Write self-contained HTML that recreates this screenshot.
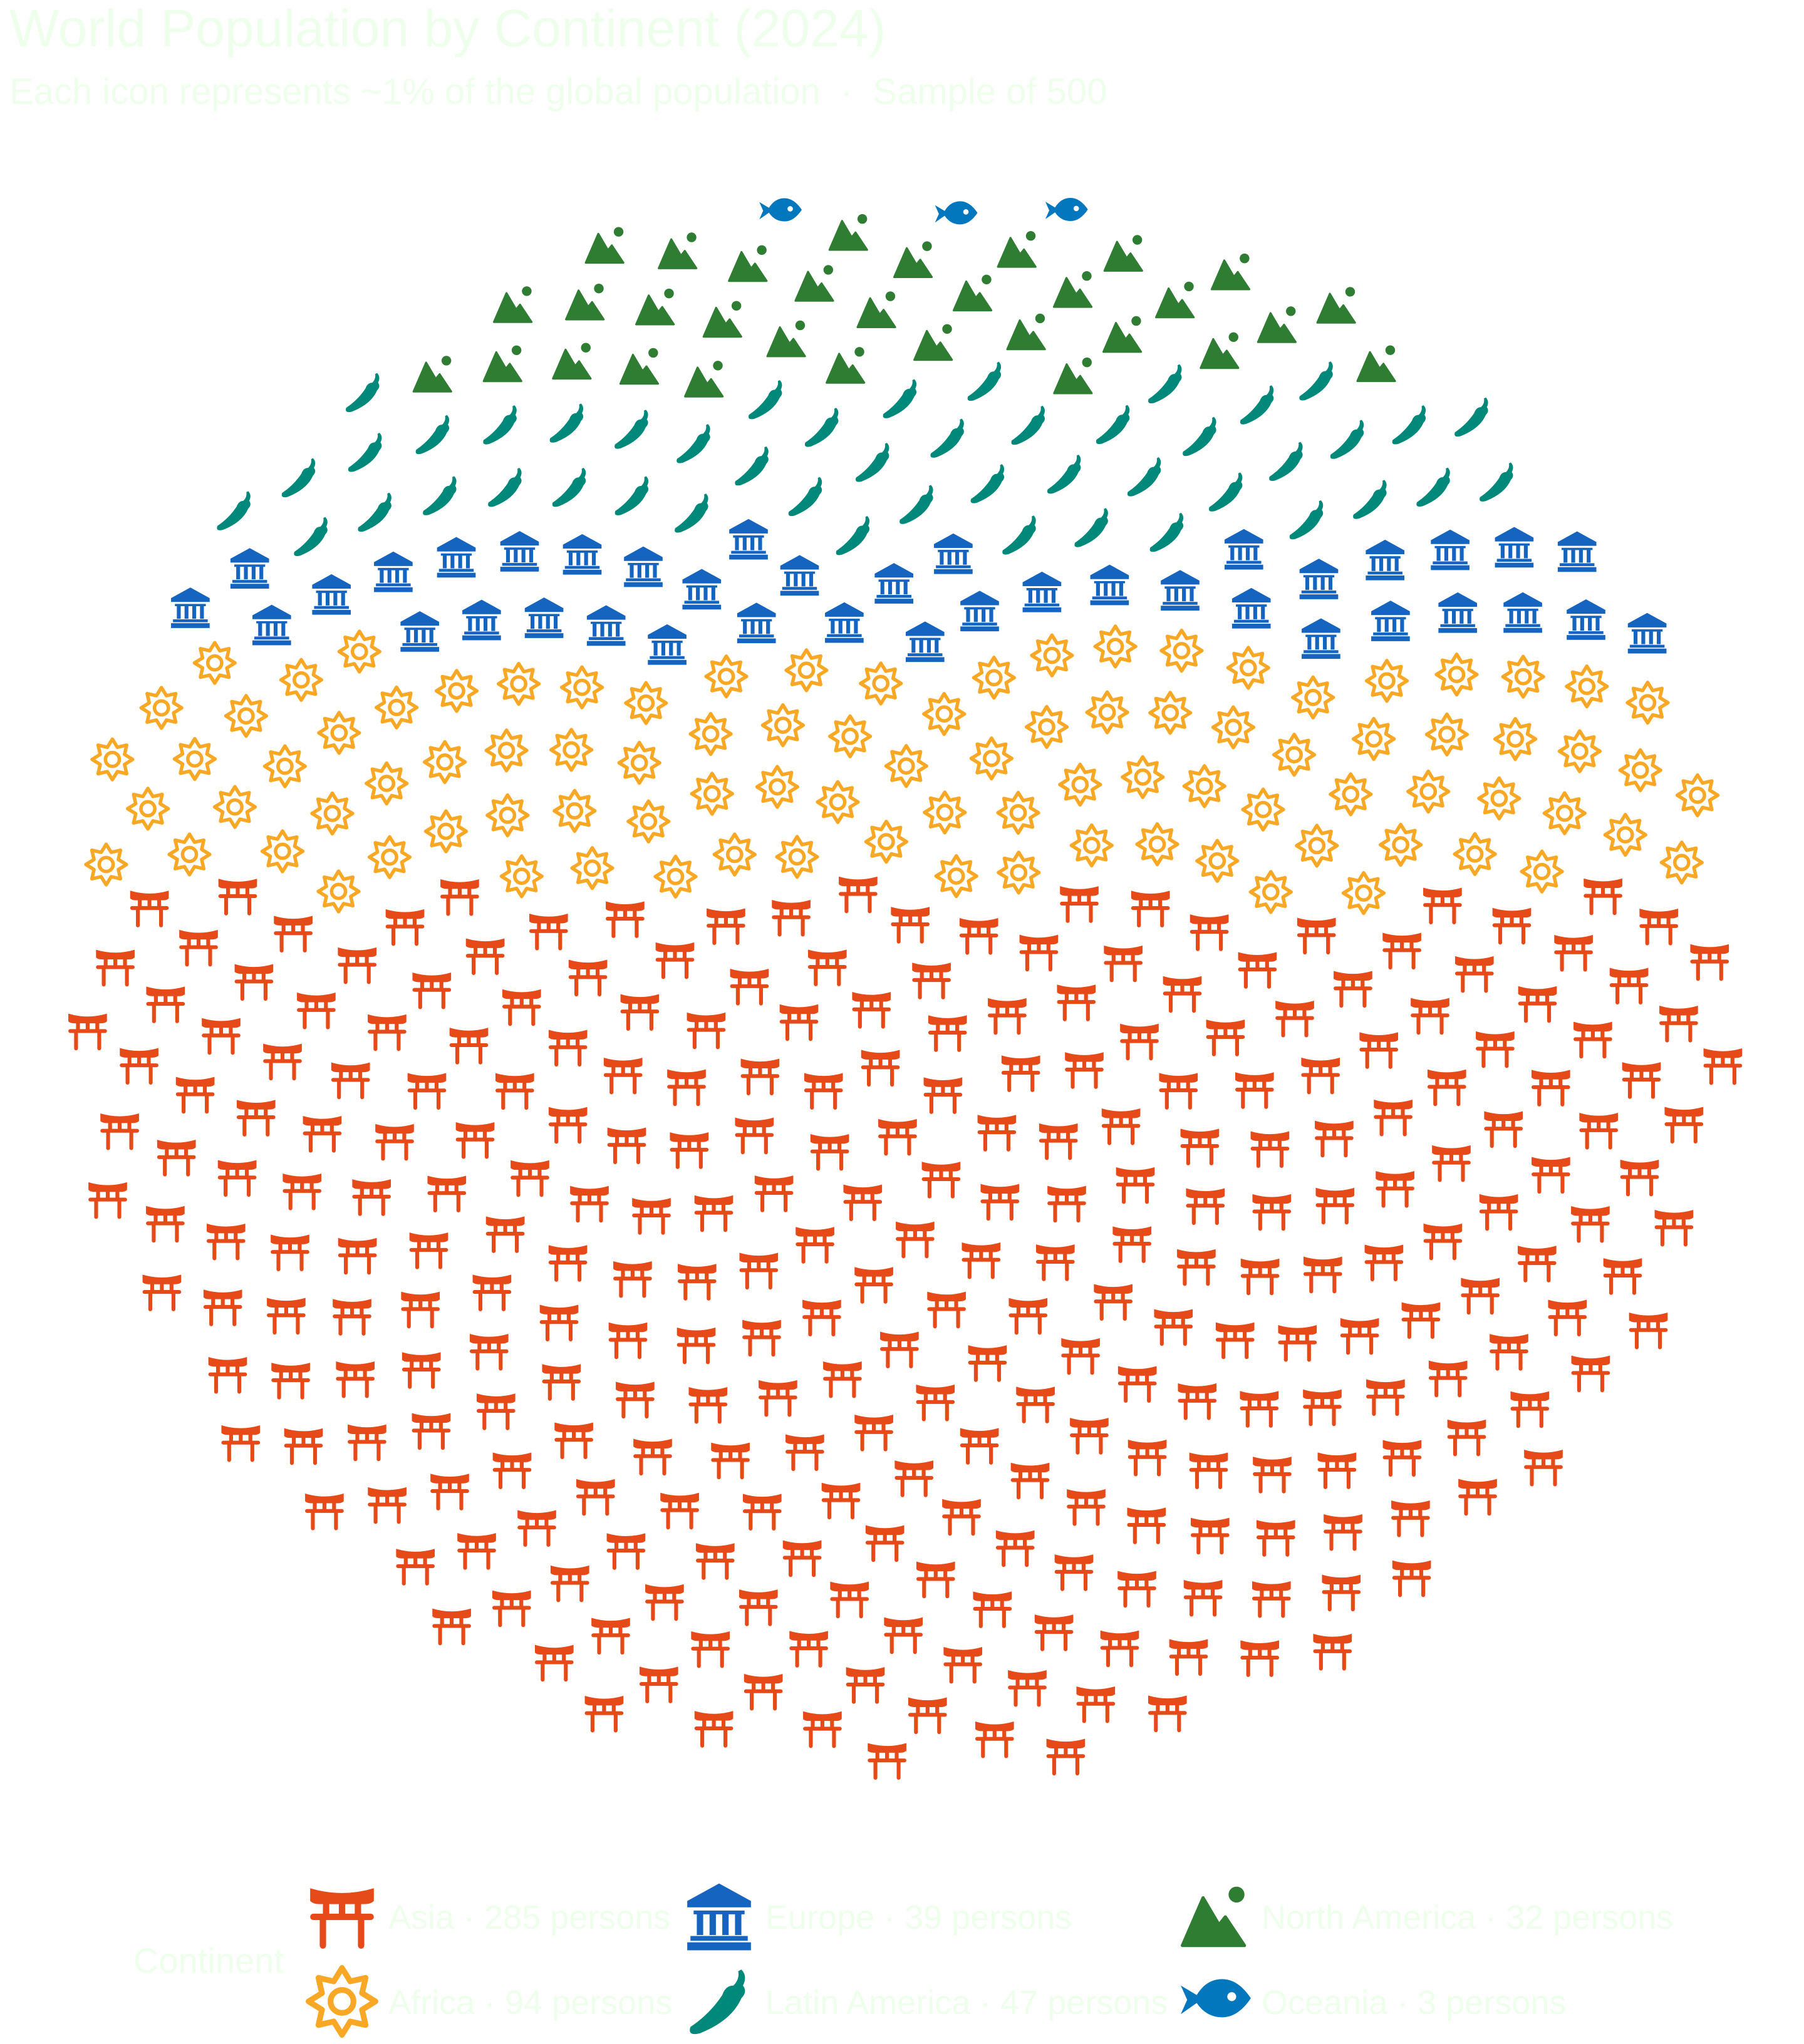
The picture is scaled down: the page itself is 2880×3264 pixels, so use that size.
<!DOCTYPE html>
<html><head><meta charset="utf-8"><style>
html,body{margin:0;padding:0;background:#fff;}
body{width:2880px;height:3264px;overflow:hidden;font-family:"Liberation Sans",sans-serif;}
svg{display:block}
</style></head><body>
<svg id="chart" width="2880" height="3264" viewBox="0 0 2880 3264" xmlns="http://www.w3.org/2000/svg">
<defs>
<symbol id="ic-torii" viewBox="0 0 24 24"><path d="M2 3 Q12 6 22 3 L22 7 Q21 8 19 8 L5 8 Q3 8 2 7Z M6 8h2v3H6z M11 8h2v3h-2z M16 8h2v3h-2z M3 11h18a1 1 0 0 1 0 2H3a1 1 0 0 1 0-2z M5 13h2v8a1 1 0 0 1-2 0z M17 13h2v8a1 1 0 0 1-2 0z" fill="currentColor"/></symbol>
<symbol id="ic-sun" viewBox="0 0 24 24"><path d="M12 1.5 L14.6 5.7 L19.4 4.6 L18.3 9.4 L22.5 12 L18.3 14.6 L19.4 19.4 L14.6 18.3 L12 22.5 L9.4 18.3 L4.6 19.4 L5.7 14.6 L1.5 12 L5.7 9.4 L4.6 4.6 L9.4 5.7Z" fill="none" stroke="currentColor" stroke-width="1.8" stroke-linejoin="round"/><circle cx="12" cy="12" r="3.6" fill="none" stroke="currentColor" stroke-width="1.8"/></symbol>
<symbol id="ic-bank" viewBox="0 0 24 24"><path d="M12 1.5 L22 7 L22 9 L2 9 L2 7Z M4 10h16v1.2H4z M5 11.2h2v6.5H5z M9 11.2h2v6.5H9z M13 11.2h2v6.5h-2z M17 11.2h2v6.5h-2z M3 18h18v1.5H3z M2 20h20v2.5H2z" fill="currentColor"/></symbol>
<symbol id="ic-mtn" viewBox="0 0 24 24"><path d="M8 6 L13 14.5 L15 12 L21 21 L1.5 21Z" fill="currentColor" stroke="currentColor" stroke-width="1" stroke-linejoin="round"/><circle cx="18.5" cy="5" r="2.5" fill="currentColor"/></symbol>
<symbol id="ic-pepper" viewBox="0 0 24 24"><path d="M19 2 Q21 4 19.5 7 Q21 9 19 11 Q16 18 6 22 Q2 23 3 20 Q9 16 13 10 Q14 7 16.5 7 Q18.5 5 18 2.5Z" fill="currentColor"/></symbol>
<symbol id="ic-fish" viewBox="0 0 24 24"><path d="M1 7 L6 10 Q9 5 14 5 Q19 5 23 11 Q19 17 14 17 Q9 17 6 12.5 L1 16 L3 11.5Z" fill="currentColor"/><circle cx="17" cy="10.5" r="1.4" fill="#fff"/></symbol>
</defs>
<text x="15" y="74" font-size="84" fill="#eeffec">World Population by Continent (2024)</text>
<text x="15" y="166" font-size="58" fill="#eeffec" xml:space="preserve">Each icon represents ~1% of the global population  ·  Sample of 500</text>
<g id="marks"></g>
<g fill="#eeffec" font-size="54">
<text x="213" y="3150" font-size="56">Continent</text>
<g><use href="#ic-torii" x="485" y="3000" width="122" height="122" color="#e64a19"/><text x="620" y="3080">Asia · 285 persons</text></g>
<g><use href="#ic-sun" x="485" y="3135" width="122" height="122" color="#f9a825"/><text x="620" y="3216">Africa · 94 persons</text></g>
<g><use href="#ic-bank" x="1087" y="3000" width="122" height="122" color="#1565c0"/><text x="1222" y="3080">Europe · 39 persons</text></g>
<g><use href="#ic-pepper" x="1087" y="3135" width="122" height="122" color="#00897b"/><text x="1222" y="3216">Latin America · 47 persons</text></g>
<g><use href="#ic-mtn" x="1880" y="3000" width="122" height="122" color="#2e7d32"/><text x="2014" y="3080">North America · 32 persons</text></g>
<g><use href="#ic-fish" x="1880" y="3135" width="122" height="122" color="#0277bd"/><text x="2014" y="3216">Oceania · 3 persons</text></g>
</g>
</svg>
<script>
// data (top-to-bottom order in the field)
const categories = ["Oceania","North America","Latin America","Europe","Africa","Asia"];
const counts = [3,32,47,39,94,285];
const iconIds = ["ic-fish","ic-mtn","ic-pepper","ic-bank","ic-sun","ic-torii"];
const colors = ["#0277bd","#2e7d32","#00897b","#1565c0","#f9a825","#e64a19"];

(function(){
  const total = counts.reduce((a,b)=>a+b,0);
  const cx=1445, cy=1565, rx=1330, ry=1265, size=74;
  const golden = Math.PI*(3-Math.sqrt(5));
  const pts=[];
  for(let i=0;i<total;i++){
    const r=Math.sqrt((i+0.5)/total), t=i*golden;
    pts.push({x:cx+rx*r*Math.cos(t), y:cy+ry*r*Math.sin(t)});
  }
  pts.sort((a,b)=>a.y-b.y);
  const g=document.getElementById('marks');
  let k=0;
  categories.forEach((c,ci)=>{
    for(let j=0;j<counts[ci];j++,k++){
      const p=pts[k];
      const u=document.createElementNS('http://www.w3.org/2000/svg','use');
      u.setAttribute('href','#'+iconIds[ci]);
      u.setAttribute('x',(p.x-size/2).toFixed(1));
      u.setAttribute('y',(p.y-size/2).toFixed(1));
      u.setAttribute('width',size);
      u.setAttribute('height',size);
      u.setAttribute('color',colors[ci]);
      
      
      g.appendChild(u);
    }
  });
})();
</script>
</body></html>
